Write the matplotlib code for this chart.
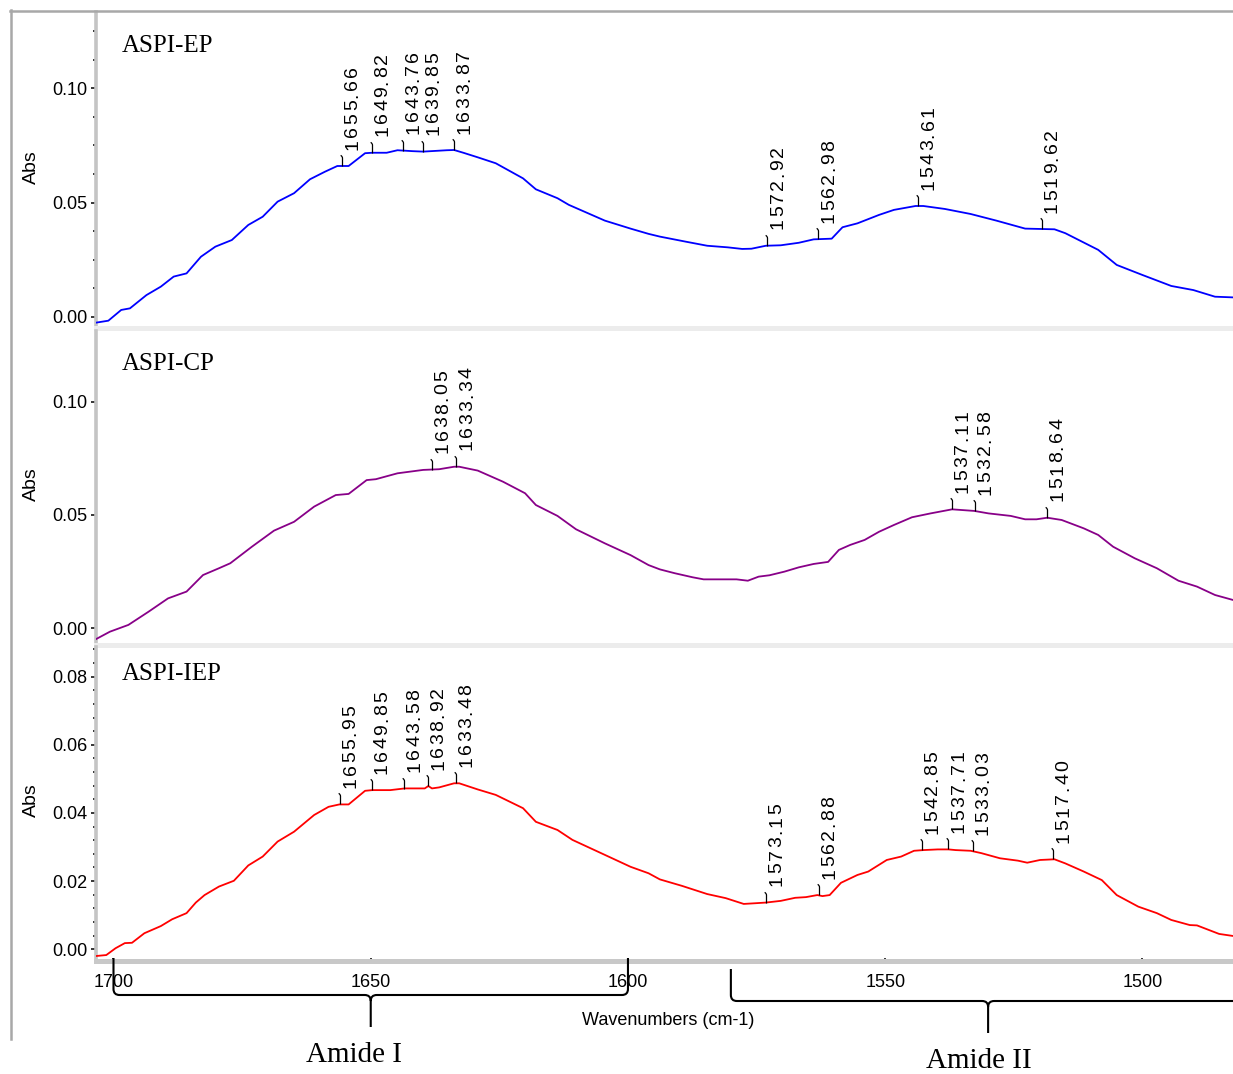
import numpy as np
import matplotlib
matplotlib.use("Agg")
import matplotlib.pyplot as plt
from matplotlib.path import Path
from matplotlib.patches import PathPatch
from matplotlib.lines import Line2D
from matplotlib.ticker import MultipleLocator, FormatStrFormatter, NullLocator
from matplotlib.transforms import offset_copy

W, H = 1233, 1074

# ---- spectra (wavenumber in cm-1, absorbance) ----
ep_wn = [1703.5, 1701.0, 1698.5, 1696.8, 1693.6, 1690.8, 1688.3, 1685.8, 1683.0, 1680.2,
         1677.0, 1673.8, 1671.0, 1668.1, 1664.9, 1661.8, 1658.9, 1656.5, 1654.3, 1651.1,
         1649.7, 1646.9, 1644.8, 1641.9, 1639.8, 1635.2, 1633.8, 1632.0, 1629.2, 1625.7,
         1620.4, 1617.9, 1613.7, 1611.5, 1604.5, 1599.5, 1596.0, 1593.8, 1588.8, 1584.6,
         1580.6, 1577.8, 1576.0, 1573.2, 1570.3, 1566.8, 1563.9, 1560.4, 1558.3, 1555.4,
         1551.2, 1548.3, 1544.1, 1542.6, 1538.4, 1533.4, 1528.4, 1522.8, 1517.1, 1515.0,
         1508.6, 1505.0, 1500.0, 1494.4, 1490.1, 1485.9, 1482.4]
ep_abs = [-0.0026, -0.0017, 0.0030, 0.0037, 0.0095, 0.0132, 0.0176, 0.0190, 0.0263, 0.0307,
          0.0336, 0.0402, 0.0438, 0.0504, 0.0541, 0.0602, 0.0635, 0.0660, 0.0660, 0.0716,
          0.0718, 0.0718, 0.0729, 0.0725, 0.0723, 0.0729, 0.0730, 0.0718, 0.0698, 0.0672,
          0.0606, 0.0558, 0.0519, 0.0490, 0.0421, 0.0386, 0.0363, 0.0351, 0.0329, 0.0311,
          0.0304, 0.0297, 0.0298, 0.0311, 0.0313, 0.0324, 0.0339, 0.0342, 0.0392, 0.0409,
          0.0446, 0.0468, 0.0485, 0.0485, 0.0472, 0.0450, 0.0421, 0.0386, 0.0383, 0.0366,
          0.0293, 0.0227, 0.0183, 0.0135, 0.0117, 0.0088, 0.0085]

cp_wn = [1703.5, 1700.7, 1697.1, 1693.2, 1689.4, 1685.8, 1682.6, 1679.5, 1677.3, 1673.1,
         1668.8, 1664.9, 1661.0, 1656.8, 1654.3, 1650.8, 1649.0, 1644.8, 1639.8, 1636.7,
         1633.8, 1632.8, 1629.2, 1624.3, 1620.0, 1617.9, 1613.7, 1610.1, 1604.5, 1599.5,
         1596.0, 1593.8, 1590.9, 1587.4, 1585.3, 1578.9, 1576.7, 1574.6, 1572.5, 1569.6,
         1566.8, 1563.9, 1561.1, 1559.0, 1556.8, 1554.0, 1551.2, 1548.3, 1544.8, 1541.2,
         1537.7, 1537.0, 1532.7, 1529.9, 1525.6, 1522.8, 1520.6, 1518.5, 1515.7, 1511.4,
         1508.6, 1505.7, 1501.5, 1497.2, 1493.0, 1489.4, 1485.9, 1482.4]
cp_abs = [-0.0049, -0.0015, 0.0015, 0.0073, 0.0132, 0.0162, 0.0235, 0.0265, 0.0287, 0.0360,
          0.0431, 0.0470, 0.0537, 0.0588, 0.0593, 0.0654, 0.0658, 0.0684, 0.0699, 0.0702,
          0.0713, 0.0713, 0.0696, 0.0647, 0.0596, 0.0544, 0.0496, 0.0437, 0.0375, 0.0323,
          0.0279, 0.0260, 0.0243, 0.0225, 0.0216, 0.0216, 0.0210, 0.0228, 0.0234, 0.0250,
          0.0269, 0.0284, 0.0293, 0.0346, 0.0368, 0.0390, 0.0426, 0.0456, 0.0490, 0.0507,
          0.0522, 0.0525, 0.0518, 0.0507, 0.0496, 0.0481, 0.0481, 0.0488, 0.0478, 0.0441,
          0.0412, 0.0360, 0.0309, 0.0265, 0.0210, 0.0184, 0.0147, 0.0125]

iep_wn = [1703.5, 1701.4, 1699.6, 1697.8, 1696.4, 1694.0, 1690.8, 1688.6, 1685.8, 1684.0,
          1682.3, 1679.5, 1676.6, 1673.8, 1671.0, 1668.1, 1664.9, 1661.0, 1658.2, 1656.1,
          1654.3, 1651.1, 1649.7, 1646.2, 1643.4, 1639.5, 1638.8, 1638.1, 1636.7, 1633.8,
          1632.8, 1629.2, 1625.7, 1620.4, 1617.9, 1613.7, 1610.8, 1604.5, 1599.5, 1596.0,
          1593.8, 1589.5, 1584.6, 1581.0, 1577.5, 1575.3, 1573.2, 1570.3, 1567.5, 1565.4,
          1563.2, 1562.2, 1560.8, 1558.6, 1555.4, 1553.3, 1549.7, 1546.9, 1544.4, 1542.6,
          1539.8, 1537.7, 1536.3, 1533.4, 1531.3, 1527.7, 1524.2, 1522.4, 1519.9, 1517.1,
          1515.0, 1511.4, 1507.9, 1505.0, 1500.8, 1497.2, 1494.4, 1490.8, 1489.4, 1485.1,
          1482.4]
iep_abs = [-0.0020, -0.0017, 0.0003, 0.0018, 0.0019, 0.0047, 0.0068, 0.0088, 0.0106, 0.0137,
           0.0159, 0.0184, 0.0201, 0.0246, 0.0272, 0.0316, 0.0345, 0.0394, 0.0418, 0.0425,
           0.0425, 0.0465, 0.0467, 0.0467, 0.0472, 0.0472, 0.0479, 0.0472, 0.0475, 0.0487,
           0.0487, 0.0469, 0.0453, 0.0414, 0.0374, 0.0350, 0.0321, 0.0277, 0.0242, 0.0223,
           0.0205, 0.0186, 0.0162, 0.0150, 0.0133, 0.0135, 0.0137, 0.0142, 0.0151, 0.0153,
           0.0159, 0.0156, 0.0159, 0.0195, 0.0218, 0.0228, 0.0262, 0.0272, 0.0289, 0.0291,
           0.0293, 0.0293, 0.0291, 0.0289, 0.0282, 0.0267, 0.0260, 0.0254, 0.0262, 0.0264,
           0.0252, 0.0228, 0.0203, 0.0159, 0.0125, 0.0106, 0.0086, 0.0071, 0.0070, 0.0045,
           0.0039]

# picked peaks
ep_peaks = [1655.66, 1649.82, 1643.76, 1639.85, 1633.87, 1572.92, 1562.98, 1543.61, 1519.62]
cp_peaks = [1638.05, 1633.34, 1537.11, 1532.58, 1518.64]
iep_peaks = [1655.95, 1649.85, 1643.58, 1638.92, 1633.48, 1573.15, 1562.88, 1542.85,
             1537.71, 1533.03, 1517.40]

names = ["ASPI-EP", "ASPI-CP", "ASPI-IEP"]
colors = ["#0000ff", "#880088", "#ff0000"]

bands = [("Amide I", 1700, 1600), ("Amide II", 1580, 1480)]

plt.rcParams["font.family"] = ["Liberation Sans"]

fig = plt.figure(figsize=(W / 100, H / 100), dpi=100)


def px_rect(top, bottom, left=96):
    return [left / W, 1 - bottom / H, 1 - left / W, (bottom - top) / H]


# little hooked stalk that marks a picked peak
hook = Path([(0, 0), (0, 9), (0, 11), (-2, 12)],
            [Path.MOVETO, Path.LINETO, Path.CURVE3, Path.CURVE3])


def peak_label(ax, wn, absb, x):
    y = np.interp(x, wn[::-1], absb[::-1])
    ax.plot([x], [y], marker=hook, ms=16, mfc="none", mec="black", mew=0.9,
            ls="none", clip_on=False, zorder=4)
    pos = 11.0
    for ch in "%.2f" % x:
        adv = 9.4 if ch.isdigit() else 5.0
        tr = offset_copy(ax.transData, fig=fig, x=7.9, y=pos + adv / 2, units="points")
        ax.text(x, y, ch, transform=tr, rotation=90, ha="center", va="center",
                fontsize=14, clip_on=False)
        pos += adv


# top, bottom (px), ylim, major step, minor step, title y (px)
layout = [
    (12, 328, (-0.0049, 0.1334), 0.05, 0.0125, 46),
    (331, 644.5, (-0.00715, 0.1312), 0.05, None, 364),
    (647, 960.5, (-0.0033, 0.0887), 0.02, 0.004, 674),
]
spectra = [(ep_wn, ep_abs, ep_peaks), (cp_wn, cp_abs, cp_peaks), (iep_wn, iep_abs, iep_peaks)]

axes = []
for i, ((top, bot, ylim, major, minor, ty), (wn, ab, peaks)) in enumerate(zip(layout, spectra)):
    ax = fig.add_axes(px_rect(top, bot))
    wn = np.array(wn)
    ab = np.array(ab)
    ax.plot(wn, ab, color=colors[i], lw=1.3, zorder=3)
    ax.set_xlim(1703.4, 1482.4)
    ax.set_ylim(*ylim)
    for p in peaks:
        peak_label(ax, wn, ab, p)

    ax.yaxis.set_major_locator(MultipleLocator(major))
    ax.yaxis.set_major_formatter(FormatStrFormatter("%.2f"))
    if minor:
        ax.yaxis.set_minor_locator(MultipleLocator(minor))
    else:
        ax.yaxis.set_minor_locator(NullLocator())
    ax.tick_params(axis="y", which="major", direction="out", length=3.5, width=1.1,
                   labelsize=13, pad=2.5)
    ax.tick_params(axis="y", which="minor", direction="out", length=2.2, width=1.1)

    for s in ("top", "right"):
        ax.spines[s].set_visible(False)
    ax.spines["left"].set_color("#c4c4c4")
    ax.spines["left"].set_linewidth(2.6)
    ax.spines["bottom"].set_linewidth(3.6)
    ax.spines["bottom"].set_color("#ececec" if i < 2 else "#c8c8c8")
    ax.patch.set_alpha(0)

    ax.set_ylabel("Abs", fontsize=14)
    ax.yaxis.label.set_va("center")
    ax.yaxis.set_label_coords(-65 / (W - 96), 0.51)
    ax.text(26 / (W - 96), (bot - ty) / (bot - top), names[i], transform=ax.transAxes,
            fontsize=18, family="Liberation Serif", ha="left", va="center")
    axes.append(ax)

for ax in axes[:2]:
    ax.set_xticks([])

ax3 = axes[2]
ax3.xaxis.set_major_locator(MultipleLocator(50))
ax3.xaxis.set_minor_locator(MultipleLocator(10))
ax3.tick_params(axis="x", which="major", direction="inout", length=5, width=1.1,
                labelsize=13, pad=7.5)
ax3.tick_params(axis="x", which="minor", direction="inout", length=3.6, width=1.1)
ax3.set_xlabel("Wavenumbers (cm-1)", fontsize=13)
ax3.xaxis.set_label_coords(0.503, -0.19)
ax3.xaxis.label.set_va("center")

# outer frame lines
fig.add_artist(Line2D([10 / W, 1], [1 - 11 / H, 1 - 11 / H], transform=fig.transFigure,
                      color="#a8a8a8", lw=1.8))
fig.add_artist(Line2D([11 / W, 11 / W], [1 - 10 / H, 1 - 1039 / H], transform=fig.transFigure,
                      color="#a8a8a8", lw=1.8))


# curly brace under the axis, given in pixel rows counted from the top
def brace(x0, x1, y_end, y_bar, y_tip, r=6):
    xm = (x0 + x1) / 2
    verts = [(x0, y_end), (x0, y_bar - r), (x0, y_bar), (x0 + r, y_bar),
             (xm - r, y_bar), (xm, y_bar), (xm, y_bar + r), (xm, y_tip),
             (xm, y_bar + r), (xm, y_bar), (xm + r, y_bar),
             (x1 - r, y_bar), (x1, y_bar), (x1, y_bar - r), (x1, y_end)]
    codes = [Path.MOVETO, Path.LINETO, Path.CURVE3, Path.CURVE3,
             Path.LINETO, Path.CURVE3, Path.CURVE3, Path.LINETO,
             Path.MOVETO, Path.CURVE3, Path.CURVE3,
             Path.LINETO, Path.CURVE3, Path.CURVE3, Path.LINETO]
    verts = [(vx / W, 1 - vy / H) for vx, vy in verts]
    fig.add_artist(PathPatch(Path(verts, codes), transform=fig.transFigure,
                             fill=False, ec="black", lw=1.5, clip_on=False))


brace_y = [(958, 995, 1027), (969, 1001, 1033)]
label_pos = [(354, 1055), (979, 1061)]
for (name, x0, x1), (ye, yb, yt), (lx, ly) in zip(bands, brace_y, label_pos):
    px0 = ax3.transData.transform((x0, 0))[0]
    px1 = ax3.transData.transform((x1, 0))[0]
    brace(px0, px1, ye, yb, yt, r=6)
    fig.text(lx / W, 1 - ly / H, name, fontsize=21, family="Liberation Serif",
             ha="center", va="center")

fig.savefig("out.png", dpi=100)
